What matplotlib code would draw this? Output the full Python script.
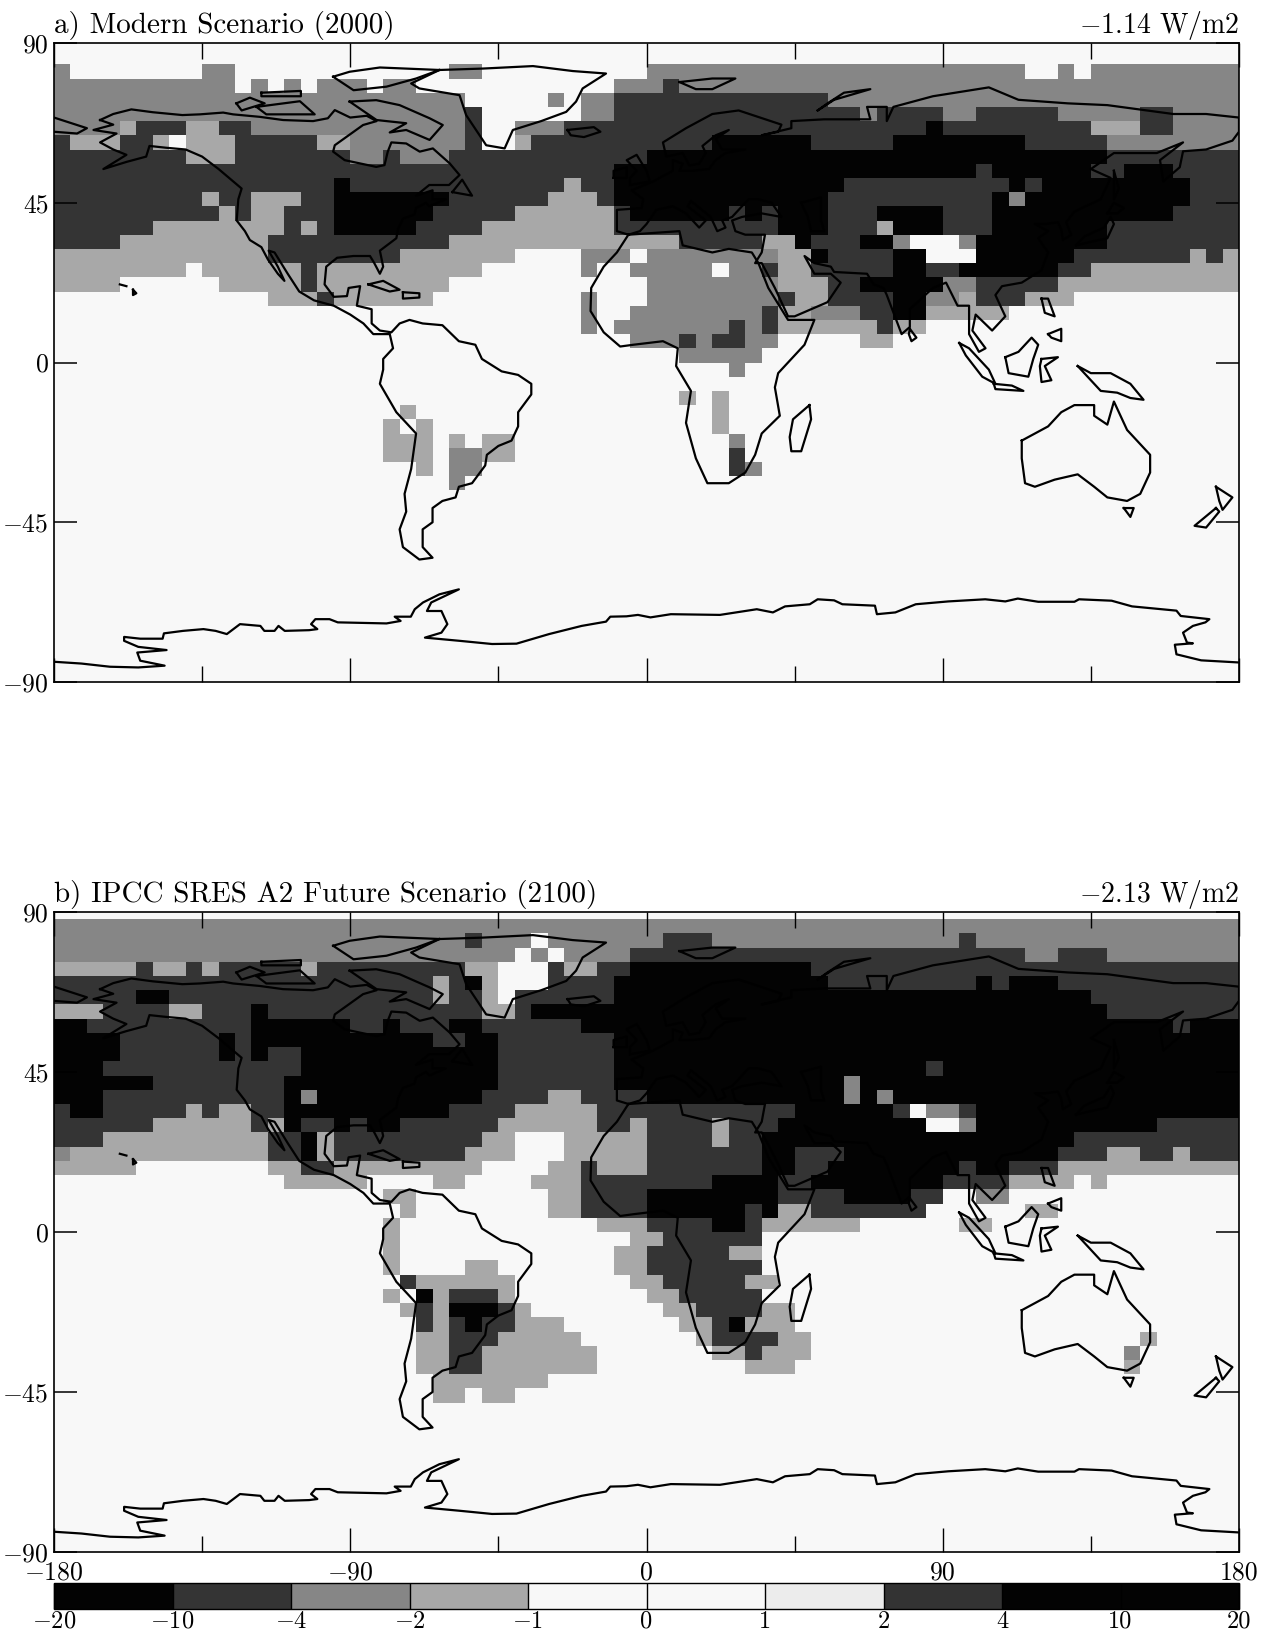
import matplotlib
matplotlib.use('Agg')
import matplotlib.pyplot as plt
import numpy as np
from matplotlib.colors import BoundaryNorm, ListedColormap

plt.rcParams['font.family'] = ['cmr10', 'DejaVu Serif']
plt.rcParams['mathtext.fontset'] = 'cm'
plt.rcParams['axes.unicode_minus'] = False

# class of each 5x4 degree grid box, north to south, written as class*run
rows_a = [
    "0*72", "0*72",
    "2*1 0*8 2*2 0*13 2*2 0*10 2*23 0*2 2*1 0*1 2*9",
    "2*11 0*1 2*1 0*1 2*1 0*1 2*3 0*1 2*2 0*12 2*3 3*1 2*34",
    "2*25 0*5 2*1 0*1 2*2 3*13 2*25",
    "2*25 3*1 0*6 2*2 3*15 2*1 3*4 2*2 3*5 2*5 3*2 2*4",
    "2*4 1*1 3*3 1*2 3*2 2*13 3*1 0*2 2*3 3*22 4*1 3*9 1*3 3*2 2*4",
    "3*1 1*3 3*2 1*1 0*1 1*3 3*5 1*2 2*7 3*1 0*2 1*1 3*11 4*6 3*5 4*8 3*5 2*8",
    "3*8 1*3 3*7 2*2 3*1 2*3 3*12 4*28 3*8",
    "3*34 4*22 3*1 4*6 3*2 4*3 3*4",
    "3*17 4*1 3*13 1*1 3*2 4*14 3*10 4*1 3*1 4*9 3*3",
    "3*9 1*1 3*2 1*3 3*2 4*7 3*6 1*3 3*1 4*13 3*10 4*1 2*1 4*10 3*3",
    "3*10 1*1 3*1 1*2 3*3 4*6 3*5 1*6 3*1 4*6 3*1 4*1 3*1 4*3 3*3 4*4 3*3 4*11 3*4",
    "3*6 1*8 3*1 1*1 3*1 4*5 3*4 1*8 3*10 4*3 3*3 1*1 4*3 3*3 4*7 3*8",
    "3*4 1*9 3*11 1*14 3*5 1*2 4*1 3*3 4*2 2*1 0*3 2*1 4*8 3*8",
    "1*13 3*8 1*7 0*4 2*3 0*1 2*8 1*2 4*1 3*4 4*2 0*3 4*6 3*7 1*1 3*1 1*1",
    "1*8 0*1 1*6 3*1 1*10 0*6 2*1 0*2 2*5 0*1 2*2 3*1 1*2 3*5 4*2 3*2 4*6 3*2 1*9",
    "1*4 0*6 1*5 3*1 1*8 0*12 2*8 1*3 3*2 4*5 2*2 3*5 1*11",
    "0*13 1*3 3*1 1*6 0*9 2*1 0*3 2*8 3*1 1*2 3*4 4*2 2*2 1*1 3*3 1*3 0*10",
    "0*32 2*1 0*2 2*8 3*1 1*2 2*3 3*2 4*2 1*5 0*14",
    "0*32 2*1 0*1 2*7 3*1 2*1 3*1 1*6 3*1 1*2 0*19",
    "0*35 2*3 3*1 2*1 3*2 2*2 0*5 1*2 0*21",
    "0*38 2*5 0*29",
    "0*41 2*1 0*30",
    "0*72",
    "0*38 1*1 0*1 1*1 0*31",
    "0*21 1*1 0*18 1*1 0*31",
    "0*20 1*1 0*1 1*1 0*17 1*1 0*31",
    "0*20 1*3 0*1 1*1 0*1 1*2 0*13 2*1 0*30",
    "0*20 1*3 0*1 2*2 1*2 0*13 3*1 0*30",
    "0*22 1*1 0*1 2*2 0*15 3*1 2*1 0*29",
    "0*24 2*1 0*47",
]
rows_b = [
    "0*72",
    "2*72",
    "2*25 3*1 2*3 0*1 2*7 3*3 2*15 3*1 2*16",
    "2*28 0*1 2*1 0*1 2*4 3*24 2*2 3*3 2*8",
    "1*5 3*1 1*2 3*1 1*1 3*5 1*1 3*9 1*2 0*3 3*1 1*2 3*2 4*11 3*26",
    "3*23 1*1 3*1 4*1 1*1 0*3 3*4 4*13 3*9 4*1 3*1 4*3 3*11",
    "3*5 4*2 3*16 1*1 3*2 1*1 0*1 3*6 4*29 3*9",
    "1*3 3*4 1*2 3*3 4*1 3*13 1*2 3*1 4*35 3*8",
    "4*2 3*10 4*6 3*2 4*1 3*3 4*2 3*6 4*36 3*1 4*3",
    "4*4 3*6 4*1 3*1 4*11 3*2 4*2 3*7 4*38",
    "4*4 3*6 4*1 3*1 4*1 3*2 4*12 3*7 4*38",
    "4*3 3*12 4*12 3*7 4*19 3*1 4*18",
    "4*6 3*8 4*13 3*7 4*14 2*1 4*23",
    "4*3 3*11 4*1 2*1 4*10 3*4 1*2 3*4 4*12 2*1 4*1 2*1 4*21",
    "3*1 4*2 3*5 1*1 3*1 1*2 3*2 4*10 3*4 1*5 3*12 4*6 3*1 0*1 2*2 3*1 4*16",
    "3*6 1*6 3*1 1*1 4*1 3*2 4*1 3*1 4*2 3*6 1*6 3*2 1*1 3*4 1*1 3*3 4*9 0*2 2*1 4*11 3*5",
    "3*3 1*10 3*2 4*1 1*1 3*9 1*2 0*3 1*5 3*4 1*1 3*2 4*19 3*10",
    "2*1 1*12 3*2 4*1 1*1 3*8 1*3 0*3 1*5 3*7 4*2 3*3 4*13 3*3 1*2 3*2 1*1 3*3",
    "1*5 0*8 1*2 3*2 1*9 0*4 1*2 3*1 1*3 3*7 4*2 3*2 4*8 3*1 4*2 3*3 1*11",
    "0*14 1*5 0*4 1*2 0*4 1*3 3*8 4*4 3*2 4*8 3*4 1*4 0*1 1*1 0*8",
    "0*20 1*2 0*8 1*2 3*4 4*8 3*4 4*4 3*2 0*2 2*2 0*14",
    "0*21 1*1 0*8 1*2 3*4 4*6 3*1 4*1 1*2 3*7 0*6 1*2 0*11",
    "0*20 1*1 0*12 1*3 3*4 4*2 3*1 1*6 0*6 1*2 0*15",
    "0*20 1*1 0*14 1*2 3*6 0*29",
    "0*20 1*1 0*13 1*2 3*5 1*2 0*29",
    "0*20 1*1 0*4 1*2 0*7 1*2 3*7 0*29",
    "0*21 3*1 1*6 0*7 1*2 3*5 1*2 0*28",
    "0*20 1*1 0*1 4*1 1*1 3*3 1*1 0*8 1*2 3*5 0*29",
    "0*21 1*1 3*1 1*1 4*3 3*1 1*1 0*8 1*2 3*4 1*2 0*27",
    "0*22 3*1 1*1 3*1 4*1 3*2 1*3 0*7 1*2 3*1 4*1 1*3 0*27",
    "0*22 1*2 3*3 1*5 0*7 1*1 3*4 1*2 0*20 1*1 0*5",
    "0*22 1*2 3*2 1*7 0*7 1*2 3*1 1*3 0*19 2*1 0*6",
    "0*22 1*2 3*2 1*7 0*9 1*3 0*20 1*1 0*6",
    "0*23 1*7 0*42",
    "0*23 1*2 0*1 1*2 0*44",
]
class_values = [0, -1.5, -3, -7, -15]

bar_levels = [-20, -10, -4, -2, -1, 0, 1, 2, 4, 10, 20]
bar_colors = ['#030303', '#343434', '#868686', '#a8a8a8', '#f8f8f8', '#f8f8f8',
              '#ececec', '#333333', '#030303', '#030303']

title_a = "a) Modern Scenario (2000)"
title_b = "b) IPCC SRES A2 Future Scenario (2100)"
mean_a = -1.14
mean_b = -2.13

antarctica = [(-180, -84.3), (-171.7, -84.8), (-163, -85.7), (-154.4, -85.9), (-146.4, -85.4), (-153.8, -84),
              (-154.7, -81.7), (-145.8, -81), (-154.4, -80.1), (-158.7, -78.4), (-158.7, -77.3), (-153.8, -77.8),
              (-147, -77.8), (-146.6, -76.3), (-140.8, -75.6), (-134.6, -75.1), (-130.9, -75.6), (-127.5, -76.5),
              (-123.5, -73.7), (-117.3, -74.2), (-116.1, -75.6), (-113, -75.6), (-111.8, -74.2), (-109.9, -75.6),
              (-102.5, -75.4), (-100, -75.1), (-101.9, -73.7), (-100.6, -72.3), (-96.3, -72.3), (-93.8, -73.2),
              (-79, -73.5), (-74.7, -72.8), (-76.5, -71.6), (-71.6, -71.6), (-70.4, -69.5), (-67.9, -67.6),
              (-62.9, -65.3), (-57, -63.9), (-65.4, -67.6), (-66.7, -70), (-62.3, -70), (-60.5, -73.7),
              (-62.3, -76.1), (-67.3, -77.5), (-56.8, -78.4), (-46.9, -79.3), (-39.5, -79.2), (-29.6, -76.5),
              (-19.7, -74.2), (-12.3, -73), (-11, -71.6), (-6.1, -71.5), (-2.6, -71.1), (1.2, -71.8), (7.4, -70.9),
              (22.3, -71.1), (33.5, -69.5), (38.4, -70.4), (42.1, -68.7), (49.6, -68.1), (52, -66.7), (57, -67),
              (59.5, -68.1), (69.4, -68.5), (70, -70.9), (75.6, -70.4), (81.8, -68.1), (91.7, -67.3), (102.9, -66.7),
              (109, -67.3), (112.8, -66.5), (119, -67.4), (130, -67.4), (131.4, -66.7), (141.3, -67.1), (147.5, -68.7),
              (161, -69.9), (162.3, -71.4), (171, -72.3), (169.8, -73.2), (166, -74.2), (163, -76.1), (164.2, -78.9),
              (166, -79.1), (160.5, -79.5), (161, -82.2), (168.5, -83.9), (180, -84.5)]
americas = [(-166, 68.3), (-162, 70), (-156.5, 71.3), (-150, 70.5), (-141, 69.7), (-135.7, 69.9), (-128.6, 70.4),
            (-125.6, 69.9), (-117.5, 69.2), (-110.4, 68.3), (-101.3, 68), (-96.8, 68.8), (-94.7, 71.1), (-90, 69),
            (-85, 69.5), (-82, 68), (-86.1, 66.9), (-94.7, 61.2), (-95.2, 59.4), (-91.7, 57), (-82.1, 55.1), (-79.6, 55.6),
            (-78.6, 59.4), (-77.5, 62), (-73, 61.7), (-68.9, 59.4), (-64.9, 60.3), (-59.8, 56.1), (-56.8, 52.8), (-60, 50),
            (-66, 50), (-70, 47), (-65, 48.5), (-65, 46), (-61, 46), (-66, 44), (-67, 45), (-70, 43.5), (-70.5, 41.7),
            (-74, 40.5), (-75.5, 37.5), (-76, 35), (-81, 31.5), (-80, 27), (-81, 25), (-82.7, 28), (-84, 30), (-89, 30),
            (-94, 29.5), (-97.3, 27), (-97.8, 22), (-95, 18.5), (-91, 18.7), (-90.5, 21), (-87, 21.5), (-88, 16),
            (-83.5, 15), (-83.5, 11), (-81, 9), (-77.5, 8.5), (-75, 11), (-72, 12), (-68, 11), (-62, 10.5), (-57, 6),
            (-52, 5), (-50, 1), (-44, -2.5), (-39, -3.5), (-35, -6), (-35, -9), (-39, -14), (-39, -18), (-41, -22),
            (-45, -23.5), (-48.5, -26), (-49, -29), (-53, -34), (-57, -35), (-58, -38), (-62, -39), (-65, -41),
            (-65, -45), (-68, -47), (-68, -52), (-65, -55), (-69, -55.5), (-74, -52), (-75, -47), (-73, -42),
            (-73.5, -37), (-71.5, -30), (-70, -20), (-76, -14), (-81, -6), (-80, -2), (-80, 1), (-77, 4), (-78, 8),
            (-80, 8), (-83, 8), (-86, 11), (-90, 13.5), (-95, 16), (-101, 17.5), (-105.5, 20), (-109, 25), (-113, 31),
            (-114.8, 31.5), (-112, 27), (-110, 23), (-112, 25), (-115, 29), (-117, 32.5), (-120.5, 34.5), (-122, 37),
            (-124.5, 40), (-124, 46), (-123, 49), (-130, 54.5), (-135, 58), (-140, 60), (-146, 60.5), (-151, 61),
            (-152, 58), (-158, 56.5), (-165, 54.5), (-158, 58.5), (-162, 60), (-166, 62), (-161, 64.5), (-168, 65.5),
            (-162, 67), (-166, 68.3)]
eurasia = [(-5.5, 36), (-9, 37), (-9, 43), (-1.5, 43.5), (-1, 46), (-4.5, 48.5), (2, 51), (4, 52), (8, 54), (8, 57),
           (11, 56), (10, 54), (14, 54), (19, 54.5), (21, 57), (24, 59), (30, 60), (23, 60), (21, 63), (25, 65.5),
           (21, 64), (17, 61), (18, 59), (16, 56), (13, 55.5), (11, 59), (6, 58), (5, 62), (12, 66), (20, 70), (28, 71),
           (41, 67), (40, 65), (35, 64), (44, 66), (44, 68), (54, 68.5), (68, 68.5), (67, 72), (73, 72), (73, 68),
           (75, 72), (81, 73.5), (87, 75), (104, 77.5), (113, 74), (128, 73), (140, 72.5), (160, 70), (170, 70),
           (180, 69), (180, 65), (178, 62.5), (170, 60), (163, 59.5), (162, 55), (157, 51), (156, 57), (163, 62),
           (155, 59), (142, 59), (135, 54.5), (141, 52), (138, 46), (130, 42.5), (127.5, 39.5), (129, 36), (126.5, 34.5),
           (126, 37.5), (125, 39.5), (121, 39), (118, 39), (122, 37), (119, 35), (122, 31), (120, 26), (114, 22.5),
           (108, 21.5), (106, 19), (109, 13), (105, 9), (100, 13.5), (99, 9), (103, 4), (101, 3), (98, 8), (98, 16),
           (94.5, 16), (91, 22.5), (87, 21), (80, 15), (80, 10), (77.5, 8), (73, 19), (72, 21), (69, 22), (67, 25),
           (57, 25.5), (56, 27), (51, 28), (48, 30), (51, 25), (56, 25), (59, 22.5), (55, 17), (45, 13), (43, 13),
           (39, 21), (35, 28), (33, 28), (35, 31), (36, 36), (30, 36), (27, 37), (26, 40), (29, 41), (35, 42), (41, 41),
           (38, 45), (34, 46), (31, 46), (28, 43), (26, 41), (23, 40), (24, 38), (21.5, 37), (19.5, 41), (13.5, 45.5),
           (12.5, 44), (18, 40), (16, 38), (12, 42), (8, 44), (3, 43), (0, 39), (-2, 37), (-5.5, 36)]
africa = [(-5.5, 36), (10, 37), (11, 33), (20, 31), (25, 32), (32, 31), (34, 28), (37, 21), (43, 12), (51, 12), (48, 5),
          (40, -3), (39, -7), (40.5, -15), (35, -20), (33, -26), (30, -31), (25, -34), (18.5, -34), (15, -27), (12, -17),
          (13.5, -8), (9, -1), (9.5, 4), (5, 6), (-4, 5), (-8, 4.5), (-13, 8.5), (-17, 14.5), (-16.8, 21), (-13, 27),
          (-9, 31), (-5.5, 36)]
australia = [(114, -22), (122, -18), (126, -14), (130, -12), (136, -12), (136, -15), (140, -17.5), (142, -11), (146, -19),
             (153, -26), (153, -31), (150, -37), (146, -39), (140, -38), (136, -35), (131, -31.5), (124, -33), (118, -35),
             (115, -34), (114, -27), (114, -22)]
greenland = [(-62.9, 82.4), (-49.7, 82.8), (-34.5, 83.5), (-22.4, 82.1), (-12.3, 81.4), (-19.4, 77.2), (-21.4, 73.5),
             (-24.4, 70.6), (-32, 68), (-40.6, 65.5), (-43.1, 60.3), (-48.7, 61.2), (-54.8, 69.7), (-56.8, 75.3),
             (-69, 77.2), (-71.5, 78.6), (-62.9, 82.4)]
islands = [
    [(-95.2, 80.5), (-90.2, 81.9), (-81, 83.1), (-62.9, 82.4), (-70, 80), (-79, 77.7), (-89, 76.7), (-95.2, 80.5)],
    [(-90.2, 73.5), (-82.1, 73.9), (-75, 72.5), (-65.9, 68.8), (-61.9, 66.9), (-65.9, 62.7), (-73, 65.5), (-78, 64.8),
     (-73, 67.4), (-82, 68.3), (-90.2, 73.5)],
    [(-118.5, 72), (-105.3, 73.6), (-100.8, 69.9), (-115.5, 69.9), (-118.5, 72)],
    [(-124.6, 73), (-120.5, 74.6), (-116, 73), (-123, 71), (-124.6, 73)],
    [(-117, 76), (-105, 76.5), (-105, 75), (-117, 75), (-117, 76)],
    [(-59, 48), (-56, 51.5), (-53, 47), (-59, 48)],
    [(-84.5, 22), (-80, 23), (-75, 20.5), (-78, 20), (-84.5, 22)],
    [(-74, 19.8), (-69, 19.5), (-69, 18.3), (-74, 18), (-74, 19.8)],
    [(-156, 20.5), (-155, 19.5), (-156, 19), (-156, 20.5)],
    [(-160, 22), (-158, 21.5)],
    [(-24, 65.5), (-16, 66.3), (-14, 65), (-19, 63.5), (-23, 64), (-24, 65.5)],
    [(10, 79), (20, 80), (27, 80), (20, 77), (15, 77), (10, 79)],
    [(52, 71), (57, 74), (68, 77), (60, 76), (55, 73), (52, 71)],
    [(-180, 69), (-170, 66), (-173, 64.5), (-180, 65)],
    [(49.5, -12), (50, -16), (47, -25), (44, -25), (43.5, -21), (44.5, -16), (49.5, -12)],
    [(-5, 50), (1, 51), (0, 54), (-3, 58.5), (-6, 57), (-3, 54), (-5, 52), (-5, 50)],
    [(-10, 52), (-6, 52), (-6, 55), (-10, 54), (-10, 52)],
    [(80, 9.5), (82, 7), (80.5, 6), (79.7, 8), (80, 9.5)],
    [(95, 5.5), (98, 4), (104, -2), (106, -6), (102, -4), (97, 2), (95, 5.5)],
    [(105.5, -6), (111, -6.5), (114.5, -8), (106, -7.5), (105.5, -6)],
    [(109, 1.5), (113, 3), (117, 7), (119, 5), (117.5, 1), (116, -4), (110, -3), (109, 1.5)],
    [(120, 1), (125, 1.5), (121, -1), (123, -5), (120, -5.5), (119.5, -1), (120, 1)],
    [(131, -1), (135, -3), (141, -3), (147, -6), (151, -10.5), (147, -10), (143, -8.5), (138, -8), (134, -4), (131, -1)],
    [(120, 18), (122, 18), (124, 13), (121, 14), (120, 18)],
    [(122, 8), (126, 9.5), (126, 6), (123, 7), (122, 8)],
    [(130.5, 33), (135, 34), (140, 35), (142, 39), (141, 41), (139, 38), (133, 35.5), (130.5, 33)],
    [(140, 42), (142, 45), (145, 43.5), (143, 42), (140, 42)],
    [(142, 54), (143.5, 49), (142, 46), (142, 50), (142, 54)],
    [(145, -41), (148, -41), (147, -43.5), (145, -41)],
    [(173, -35), (178, -38), (175, -41.5), (174, -39), (173, -35)],
    [(173, -41), (174, -42), (170, -46.5), (166.5, -46), (173, -41)],
    [(47, 45), (53, 46.5), (53, 40), (54, 37), (50, 37), (49, 41), (47, 45)],
]


def expand(rows):
    grid = np.zeros((46, 72))
    for i, row in enumerate(rows):
        cells = []
        for token in row.split():
            cls, run = token.split('*')
            cells += [class_values[int(cls)]] * int(run)
        grid[i, :] = cells
    return grid


def label(v):
    return "$-$" + str(abs(v)) if v < 0 else str(v)


W, H = 1269, 1634
lon_edges = np.arange(-180, 181, 5)
lat_edges = np.concatenate([[90], np.arange(88, -89, -4), [-90]])
cmap = ListedColormap(bar_colors)
norm = BoundaryNorm(bar_levels, cmap.N)

fig = plt.figure(figsize=(W / 100, H / 100), dpi=100, facecolor='white')


def draw_panel(top, bottom, rows, title, mean):
    ax = fig.add_axes([54 / W, 1 - bottom / H, 1185 / W, (bottom - top) / H])
    mesh = ax.pcolormesh(lon_edges, lat_edges, expand(rows), cmap=cmap, norm=norm,
                         shading='flat', antialiased=False)
    for line in [antarctica, americas, eurasia, africa, australia, greenland] + islands:
        xy = np.array(line)
        ax.plot(xy[:, 0], xy[:, 1], color='black', lw=1.6, solid_joinstyle='round', clip_on=True)
    ax.set_xlim(-180, 180)
    ax.set_ylim(-90, 90)
    ax.set_xticks([-180, -90, 0, 90, 180])
    ax.set_xticks([-135, -45, 45, 135], minor=True)
    ax.set_yticks([-90, -45, 0, 45, 90])
    ax.set_yticklabels([label(v) for v in [-90, -45, 0, 45, 90]])
    ax.tick_params(axis='x', which='major', direction='in', top=True, bottom=True, length=17, width=1,
                   labelsize=18.5, pad=6)
    ax.tick_params(axis='x', which='minor', direction='in', top=True, bottom=True, length=11.5, width=1)
    ax.tick_params(axis='y', direction='in', left=True, right=True, length=16.5, width=1.1, labelsize=18.5, pad=4)
    for spine in ax.spines.values():
        spine.set_linewidth(1.2)
    ax.set_title(title, loc='left', fontsize=21, pad=7)
    ax.set_title("$-$%.2f W/m2" % abs(mean), loc='right', fontsize=20, pad=7)
    return ax, mesh


ax_a, mesh_a = draw_panel(43, 682, rows_a, title_a, mean_a)
ax_a.set_xticklabels([])
ax_b, mesh_b = draw_panel(912, 1552, rows_b, title_b, mean_b)
ax_b.set_xticklabels([label(v) for v in [-180, -90, 0, 90, 180]])

cax = fig.add_axes([54 / W, 1 - 1609 / H, 1185 / W, 26 / H])
cb = fig.colorbar(mesh_b, cax=cax, orientation='horizontal', spacing='uniform', ticks=bar_levels)
cb.outline.set_linewidth(1)
cb.ax.set_xticklabels([label(v) for v in bar_levels])
cb.ax.minorticks_off()
cb.ax.tick_params(axis='x', direction='in', length=19, width=1, labelsize=17.5, pad=1, color='black')

plt.savefig('out.png', dpi=100)
